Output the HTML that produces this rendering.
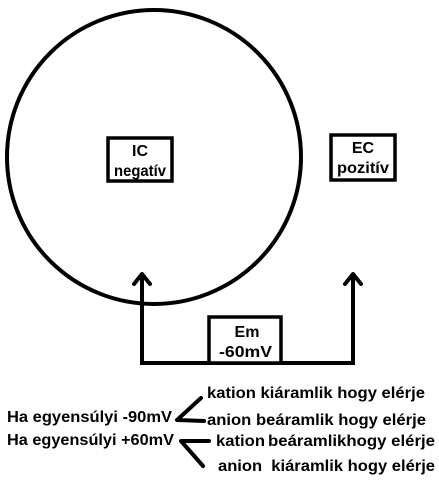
<!DOCTYPE html>
<html><head><style>
body{margin:0;background:#fff;width:439px;height:485px;overflow:hidden}
svg text{font-family:"Liberation Sans",sans-serif;font-weight:bold;font-size:16px;fill:#000}
</style></head><body>
<svg width="439" height="485" viewBox="0 0 439 485">
<circle cx="154" cy="157" r="147" fill="none" stroke="#000" stroke-width="4"/>
<rect x="108" y="138" width="64" height="43" fill="#fff" stroke="#000" stroke-width="3.5"/>
<text x="140" y="156" text-anchor="middle">IC</text>
<text x="114" y="176" textLength="52" lengthAdjust="spacingAndGlyphs">negatív</text>
<rect x="331" y="135" width="64" height="45" fill="#fff" stroke="#000" stroke-width="3.5"/>
<text x="363" y="153" text-anchor="middle">EC</text>
<text x="337" y="173" textLength="52" lengthAdjust="spacingAndGlyphs">pozitív</text>
<polyline points="142,275 142,363 353,363 353,275" fill="none" stroke="#000" stroke-width="4"/>
<polyline points="134,284 142,274 150,284" fill="none" stroke="#000" stroke-width="4" stroke-linecap="round" stroke-linejoin="round"/>
<polyline points="345,284 353,274 361,284" fill="none" stroke="#000" stroke-width="4" stroke-linecap="round" stroke-linejoin="round"/>
<rect x="209" y="317" width="72" height="46" fill="#fff" stroke="#000" stroke-width="3.5"/>
<text x="247" y="337" text-anchor="middle">Em</text>
<text x="219" y="357" textLength="53" lengthAdjust="spacingAndGlyphs">-60mV</text>
<text x="207" y="398" textLength="218" lengthAdjust="spacingAndGlyphs">kation kiáramlik hogy elérje</text>
<text x="7" y="422" textLength="165" lengthAdjust="spacingAndGlyphs">Ha egyensúlyi -90mV</text>
<text x="207" y="425" textLength="219" lengthAdjust="spacingAndGlyphs">anion beáramlik hogy elérje</text>
<text x="7" y="445" textLength="167" lengthAdjust="spacingAndGlyphs">Ha egyensúlyi +60mV</text>
<text x="216" y="446" textLength="49" lengthAdjust="spacingAndGlyphs">kation</text>
<text x="268" y="446" textLength="167" lengthAdjust="spacingAndGlyphs">beáramlikhogy elérje</text>
<text x="218" y="471" textLength="217" lengthAdjust="spacingAndGlyphs">anion&#160; kiáramlik hogy elérje</text>
<polyline points="201,398 177,420 204,421" fill="none" stroke="#000" stroke-width="4" stroke-linecap="round" stroke-linejoin="round"/>
<polyline points="209,441 181,441 203,466" fill="none" stroke="#000" stroke-width="4" stroke-linecap="round" stroke-linejoin="round"/>
</svg>
</body></html>
